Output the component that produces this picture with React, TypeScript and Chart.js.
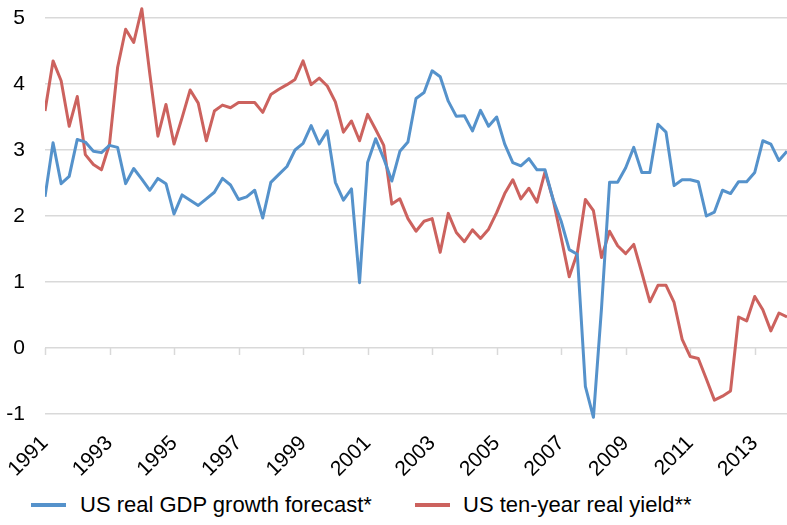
import React, { useEffect, useRef } from "react";
import { Chart, registerables } from "chart.js";

Chart.register(...registerables);

const START_YEAR = 1991;

const GDP_FORECAST = [
  2.29, 3.11, 2.49, 2.6, 3.16, 3.12, 2.98, 2.96, 3.07, 3.04, 2.49, 2.72,
  2.56, 2.39, 2.57, 2.49, 2.03, 2.32, 2.24, 2.16, 2.26, 2.36, 2.57, 2.47,
  2.25, 2.29, 2.39, 1.97, 2.51, 2.63, 2.75, 3.0, 3.1, 3.37, 3.09, 3.29,
  2.51, 2.24, 2.41, 0.99, 2.81, 3.17, 2.87, 2.53, 2.98, 3.12, 3.78, 3.87,
  4.2, 4.11, 3.74, 3.51, 3.52, 3.29, 3.6, 3.36, 3.5, 3.09, 2.81, 2.76,
  2.87, 2.7, 2.7, 2.25, 1.92, 1.49, 1.42, -0.58, -1.05, 0.6, 2.51, 2.51,
  2.73, 3.04, 2.66, 2.66, 3.39, 3.27, 2.46, 2.55, 2.55, 2.52, 2.0, 2.06,
  2.39, 2.34, 2.52, 2.52, 2.66, 3.14, 3.09, 2.84, 2.98,
];

const REAL_YIELD = [
  3.59, 4.35, 4.05, 3.36, 3.81, 2.93, 2.78, 2.7, 3.09, 4.25, 4.83, 4.63,
  5.14, 4.15, 3.21, 3.69, 3.09, 3.49, 3.91, 3.71, 3.14, 3.59, 3.68, 3.64,
  3.72, 3.72, 3.72, 3.57, 3.84, 3.92, 3.99, 4.07, 4.35, 3.99, 4.09, 3.97,
  3.73, 3.27, 3.44, 3.14, 3.54, 3.31, 3.07, 2.18, 2.26, 1.96, 1.77, 1.92,
  1.96, 1.45, 2.04, 1.75, 1.61, 1.79, 1.66, 1.8, 2.05, 2.34, 2.55, 2.26,
  2.42, 2.21, 2.67, 2.25, 1.67, 1.08, 1.44, 2.25, 2.08, 1.37, 1.77, 1.55,
  1.43, 1.57, 1.14, 0.7, 0.95, 0.95, 0.69, 0.13, -0.13, -0.16, -0.47, -0.79,
  -0.73, -0.65, 0.47, 0.41, 0.78, 0.58, 0.26, 0.53, 0.47,
];

// quarterly time axis (decimal years)
const QUARTERS = GDP_FORECAST.map((_, i) => START_YEAR + i / 4);

const TICK_YEARS = [1991, 1993, 1995, 1997, 1999, 2001, 2003, 2005, 2007, 2009, 2011, 2013];
const Y_TICKS = [-1, 0, 1, 2, 3, 4, 5];

const SERIES_NAMES = ["US real GDP growth forecast*", "US ten-year real yield**"];
const SERIES_COLORS = ["#5592cb", "#cc625e"];

const FONT_FAMILY = "'Liberation Sans', Arial, Helvetica, sans-serif";

const zeroAxisTicks = {
  id: "zeroAxisTicks",
  beforeDatasetsDraw(chart: any) {
    const { ctx, scales } = chart;
    const x = scales.x;
    const y = scales.y;
    const y0 = y.getPixelForValue(0);
    ctx.save();
    ctx.strokeStyle = "#d9d9d9";
    ctx.lineWidth = 1.5;
    x.ticks.forEach((t: any) => {
      const px = Math.round(x.getPixelForValue(t.value)) + 0.5;
      ctx.beginPath();
      ctx.moveTo(px, y0);
      ctx.lineTo(px, y0 + 7);
      ctx.stroke();
    });
    ctx.restore();
  },
};

export default function App() {
  const canvasRef = useRef<HTMLCanvasElement | null>(null);

  useEffect(() => {
    document.body.style.margin = "0";
    const canvas = canvasRef.current;
    if (!canvas) return;

    const datasets = [GDP_FORECAST, REAL_YIELD].map((vals, k) => ({
      label: SERIES_NAMES[k],
      data: vals.map((v, i) => ({ x: QUARTERS[i], y: v })),
      borderColor: SERIES_COLORS[k],
      backgroundColor: SERIES_COLORS[k],
      borderWidth: 3,
      pointRadius: 0,
      tension: 0,
      borderJoinStyle: "round" as const,
      clip: { left: 0, right: 0, top: 20, bottom: 10 },
    }));

    const chart = new Chart(canvas, {
      type: "line",
      data: { datasets },
      plugins: [zeroAxisTicks],
      options: {
        animation: false,
        responsive: false,
        layout: { padding: { top: 18, left: 0, right: 0, bottom: 0 } },
        scales: {
          x: {
            type: "linear",
            min: QUARTERS[0],
            max: QUARTERS[QUARTERS.length - 1],
            grid: { display: false },
            border: { display: false },
            afterBuildTicks: (s: any) => {
              s.ticks = TICK_YEARS.map((v) => ({ value: v }));
            },
            ticks: {
              autoSkip: false,
              maxRotation: 45,
              minRotation: 45,
              padding: 9,
              color: "#000",
              font: { family: FONT_FAMILY, size: 21 },
              callback: (v: any) => String(v),
            },
            afterFit: (s: any) => {
              s.height = 68;
            },
          },
          y: {
            min: Y_TICKS[0],
            max: Y_TICKS[Y_TICKS.length - 1],
            grid: { color: "#d9d9d9", lineWidth: 1.5, drawTicks: false },
            border: { display: false },
            afterBuildTicks: (s: any) => {
              s.ticks = Y_TICKS.map((v) => ({ value: v }));
            },
            ticks: {
              padding: 20,
              color: "#000",
              font: { family: FONT_FAMILY, size: 21 },
            },
            afterFit: (s: any) => {
              s.width = 45;
              s.paddingTop = 0;
              s.paddingBottom = 0;
            },
          },
        },
        plugins: {
          legend: { display: false },
          tooltip: { enabled: false },
        },
      },
    });

    return () => chart.destroy();
  }, []);

  const legendText: React.CSSProperties = {
    position: "absolute",
    top: 0,
    height: 46,
    lineHeight: "46px",
    fontFamily: FONT_FAMILY,
    fontSize: 22,
    color: "#000",
    whiteSpace: "nowrap",
  };
  const legendBox = (left: number, color: string): React.CSSProperties => ({
    position: "absolute",
    left,
    top: 21,
    width: 35,
    height: 4,
    background: color,
  });

  return (
    <div style={{ width: 787, height: 525, position: "relative" }}>
      <canvas ref={canvasRef} width={787} height={482} style={{ display: "block" }} />
      <div style={{ position: "relative", width: 787, height: 43 }}>
        <div style={legendBox(31, SERIES_COLORS[0])} />
        <div style={{ ...legendText, left: 80 }}>{SERIES_NAMES[0]}</div>
        <div style={legendBox(415, SERIES_COLORS[1])} />
        <div style={{ ...legendText, left: 463 }}>{SERIES_NAMES[1]}</div>
      </div>
    </div>
  );
}
